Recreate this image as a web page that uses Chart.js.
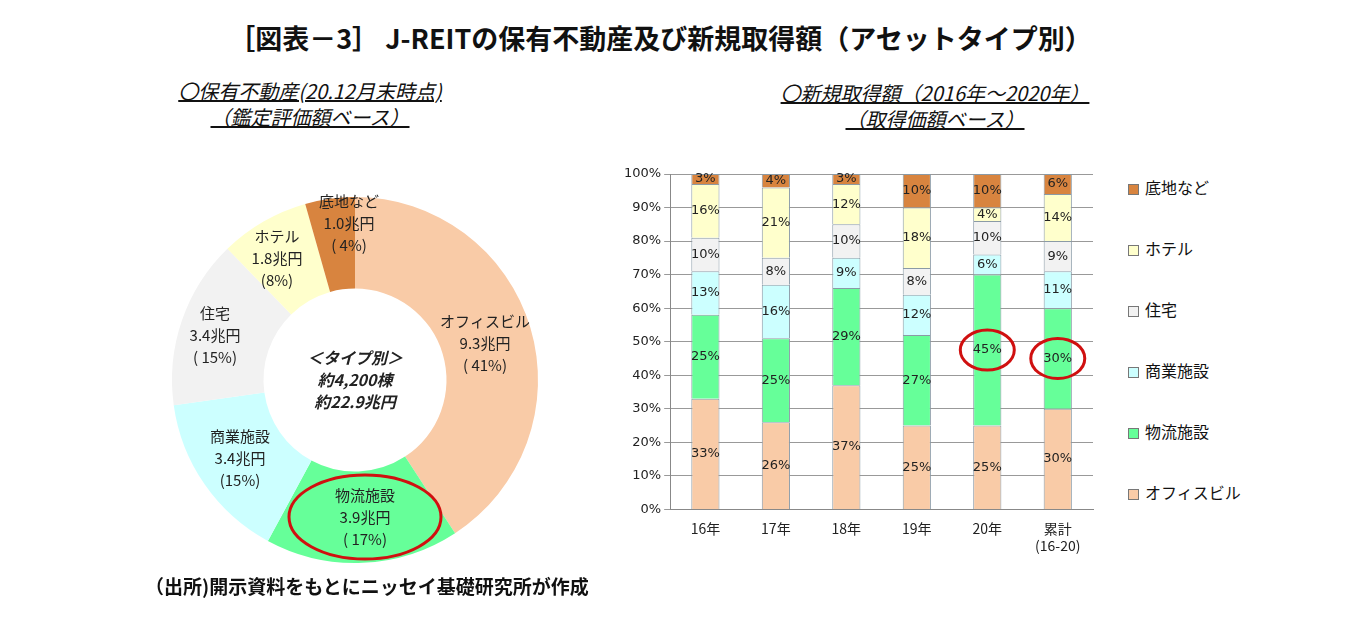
<!DOCTYPE html>
<html><head><meta charset="utf-8">
<script src="https://cdn.jsdelivr.net/npm/chart.js@4"></script>
<style>
body{margin:0;width:1356px;height:629px;background:#fff;font-family:"Noto Sans CJK JP",sans-serif;position:relative;overflow:hidden}
.t{position:absolute;white-space:nowrap;color:#111}
#main{left:0;width:1320px;text-align:center;top:18px;font-size:27px;font-weight:bold}
.sub{font-size:20px;font-style:italic;text-decoration:underline;text-align:center;line-height:26px}
#src{left:145px;top:572px;font-size:19px;font-weight:bold}
canvas{position:absolute}
.lg{position:absolute;left:1128px;font-size:16px;color:#111}
.lg span{display:inline-block;width:9px;height:9px;border:1px solid #777;margin-right:6px;vertical-align:middle}
</style></head><body>
<div class="t" id="main">［図表－3］ J-REITの保有不動産及び新規取得額（アセットタイプ別）</div>
<div class="t sub" style="left:150px;top:78px;width:320px">〇保有不動産(20.12月末時点)<br>（鑑定評価額ベース）</div>
<div class="t sub" style="left:760px;top:80px;width:350px">〇新規取得額（2016年～2020年）<br>（取得価額ベース）</div>
<canvas id="pie" style="left:130px;top:175px;width:450px;height:410px"></canvas>
<canvas id="bar" style="left:621px;top:162px;width:480px;height:395px"></canvas>
<div class="t" id="src">（出所)開示資料をもとにニッセイ基礎研究所が作成</div>
<div id="legend"></div>
<script>
const types = ["オフィスビル","物流施設","商業施設","住宅","ホテル","底地など"];
const colors = ["#F9CBA7","#66FF99","#CCFFFF","#F2F2F2","#FFFFCC","#D8843F"];
const pieValues = [9.3,3.9,3.4,3.4,1.8,1.0];
const piePct = ["( 41%)","( 17%)","(15%)","( 15%)","(8%)","( 4%)"];
const years = [["16年"],["17年"],["18年"],["19年"],["20年"],["累計","(16-20)"]];
const office = [33,26,37,25,25,30];
const logistics = [25,25,29,27,45,30];
const commercial = [13,16,9,12,6,11];
const residential = [10,8,10,8,10,9];
const hotel = [16,21,12,18,4,14];
const land = [3,4,3,10,10,6];
const barSeries = [office,logistics,commercial,residential,hotel,land];
const yTicks = [0,10,20,30,40,50,60,70,80,90,100];

const lgEl=document.getElementById('legend');
for(let i=5;i>=0;i--){const d=document.createElement('div');d.className='lg';d.style.top=(175+(5-i)*61)+'px';d.innerHTML='<span style="background:'+colors[i]+'"></span>'+types[i];lgEl.appendChild(d);}

function ellipse(ctx,x,y,rx,ry){ctx.save();ctx.strokeStyle='#D01010';ctx.lineWidth=3;ctx.beginPath();ctx.ellipse(x,y,rx,ry,0,0,Math.PI*2);ctx.stroke();ctx.restore();}

const pieLabels={id:'pl',afterDraw(c){
  const ctx=c.ctx;const meta=c.getDatasetMeta(0);
  ctx.save();ctx.fillStyle='#222';ctx.textAlign='center';ctx.textBaseline='middle';ctx.font='15px "Noto Sans CJK JP"';
  const off=[[130,-37],[10,137],[-115,78],[-140,-45],[-78,-122],[-6,-157]];
  meta.data.forEach((a,i)=>{
    const x=a.x+off[i][0], y=a.y+off[i][1];
    const lines=[types[i],pieValues[i].toFixed(1)+"兆円",piePct[i]];
    lines.forEach((t,k)=>ctx.fillText(t,x,y+(k-1)*22));
    if(i===1) ellipse(ctx,x,y,76,42);
  });
  const a=meta.data[0];
  ctx.font='italic bold 16px "Noto Sans CJK JP"';
  ["＜タイプ別＞","約4,200棟","約22.9兆円"].forEach((t,k)=>ctx.fillText(t,a.x,a.y+(k-1)*22));
  ctx.restore();}};

new Chart(document.getElementById('pie'),{type:'doughnut',
 data:{labels:types,datasets:[{data:pieValues,backgroundColor:colors,borderWidth:0}]},
 options:{responsive:false,animation:false,cutout:'50%',layout:{padding:{top:22,bottom:22}},plugins:{legend:{display:false},tooltip:{enabled:false}}},
 plugins:[pieLabels]});

const barLabels={id:'bl',afterDatasetsDraw(c){
  const ctx=c.ctx;ctx.save();ctx.fillStyle='#222';ctx.textAlign='center';ctx.textBaseline='middle';ctx.font='13px "DejaVu Sans"';
  c.data.datasets.forEach((ds,di)=>{c.getDatasetMeta(di).data.forEach((b,j)=>{
    const y=(b.y+b.base)/2;ctx.fillText(ds.data[j]+'%',b.x,y);
    if(di===1&&j>=4) ellipse(ctx,b.x,y,27,20);
  });});ctx.restore();}};

new Chart(document.getElementById('bar'),{type:'bar',
 data:{labels:years,datasets:barSeries.map((d,i)=>({label:types[i],data:d,backgroundColor:colors[i],borderColor:'#8a9aa6',borderWidth:1,barPercentage:0.4,categoryPercentage:1}))},
 options:{responsive:false,animation:false,layout:{padding:{top:12,right:8}},
  plugins:{legend:{display:false},tooltip:{enabled:false}},
  scales:{x:{stacked:true,grid:{display:false},border:{color:'#888'},ticks:{color:'#222',font:{size:14,family:'"Noto Sans CJK JP"'}}},
   y:{stacked:true,min:0,max:100,afterBuildTicks(s){s.ticks=yTicks.map(v=>({value:v}));},grid:{color:'#999',tickLength:6},border:{color:'#888'},ticks:{color:'#222',font:{size:13,family:'"DejaVu Sans"'},callback:v=>v+'%'}}}},
 plugins:[barLabels]});
</script></body></html>
